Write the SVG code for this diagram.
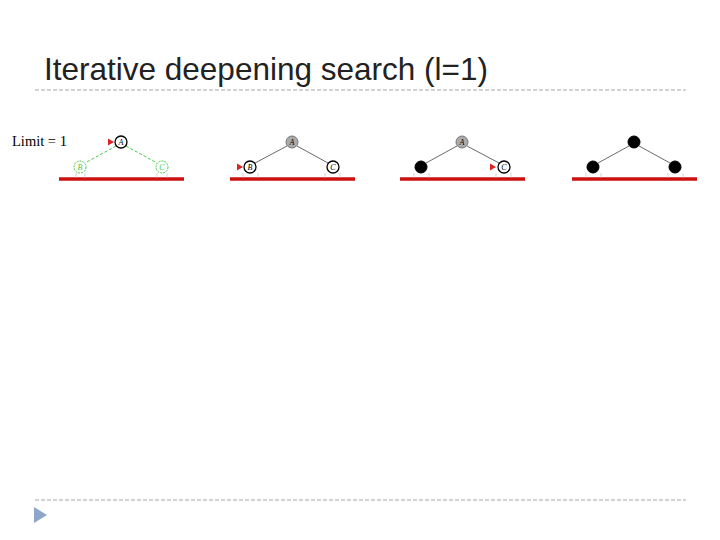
<svg xmlns="http://www.w3.org/2000/svg" width="720" height="540" viewBox="0 0 720 540">
<style>
.title{font-family:"Liberation Sans",Arial,sans-serif;font-size:31.5px;fill:#222}
.sep{stroke:#a6a6a6;stroke-width:1;stroke-dasharray:4,2;fill:none}
.edge{stroke:#444;stroke-width:0.8;fill:none}
.gedge{stroke:#44cc44;stroke-width:1;stroke-dasharray:3,2;fill:none}
.open{fill:#fff;stroke:#000;stroke-width:1.3}
.gray{fill:#aaa;stroke:#777;stroke-width:1}
.black{fill:#000;stroke:#000}
.green{fill:#fff;stroke:#44cc44;stroke-width:1;stroke-dasharray:2,1}
.lbl{font-family:"Liberation Serif",serif;font-style:italic;font-size:8px;text-anchor:middle}
.floor{stroke:#cc1111;stroke-width:3.5}
.tick{stroke:#bbb;stroke-width:0.6}
.ptr{fill:#dd2222}
.limit{font-family:"Liberation Serif",serif;font-size:14.5px;fill:#000}
</style>
<text class="title" x="44" y="80">Iterative deepening search (l=1)</text>
<line class="sep" x1="35" y1="90" x2="686" y2="90"/>
<line class="sep" x1="35" y1="500" x2="686" y2="500"/>
<polygon points="34,507 34,523 47,515" fill="#8ea6c9"/>
<text class="limit" x="12" y="146">Limit = 1</text>
<g id="connectors">
<line class="gedge" x1="116" y1="146" x2="85" y2="163"/>
<line class="gedge" x1="126" y1="146" x2="157" y2="163"/>
<line class="edge" x1="287" y1="146" x2="255" y2="163"/>
<line class="edge" x1="297" y1="146" x2="328" y2="163"/>
<line class="edge" x1="457" y1="146" x2="426" y2="163"/>
<line class="edge" x1="467" y1="146" x2="499" y2="163"/>
<line class="edge" x1="629" y1="146" x2="598" y2="163"/>
<line class="edge" x1="639" y1="146" x2="670" y2="163"/>
</g>
<g id="panel1">
<line class="floor" x1="59" y1="179" x2="184" y2="179"/>
<line class="tick" x1="76" y1="173" x2="76" y2="178"/><line class="tick" x1="85" y1="173" x2="85" y2="178"/>
<line class="tick" x1="157" y1="173" x2="157" y2="178"/><line class="tick" x1="167" y1="173" x2="167" y2="178"/>
<g id="p1A"><circle class="open" cx="121" cy="142" r="6"/><text class="lbl" x="121" y="145">A</text></g>
<g id="p1B"><circle class="green" cx="80" cy="167" r="6"/><text class="lbl" x="80" y="170" fill="#44cc44">B</text></g>
<g id="p1C"><circle class="green" cx="162" cy="167" r="6"/><text class="lbl" x="162" y="170" fill="#44cc44">C</text></g>
<polygon class="ptr" points="108,138.5 108,145.5 114,142"/>
</g>
<g id="panel2">
<line class="floor" x1="230" y1="179" x2="355" y2="179"/>
<line class="tick" x1="243" y1="173" x2="243" y2="178"/><line class="tick" x1="258" y1="173" x2="258" y2="178"/>
<line class="tick" x1="325" y1="173" x2="325" y2="178"/><line class="tick" x1="340" y1="173" x2="340" y2="178"/>
<g id="p2A"><circle class="gray" cx="292" cy="142" r="6"/><text class="lbl" x="292" y="145">A</text></g>
<g id="p2B"><circle class="open" cx="250" cy="167" r="6"/><text class="lbl" x="250" y="170">B</text></g>
<g id="p2C"><circle class="open" cx="333" cy="167" r="6"/><text class="lbl" x="333" y="170">C</text></g>
<polygon class="ptr" points="237,163.5 237,170.5 243,167"/>
</g>
<g id="panel3">
<line class="floor" x1="400" y1="179" x2="525" y2="179"/>
<line class="tick" x1="414" y1="173" x2="414" y2="178"/><line class="tick" x1="429" y1="173" x2="429" y2="178"/>
<line class="tick" x1="496" y1="173" x2="496" y2="178"/><line class="tick" x1="511" y1="173" x2="511" y2="178"/>
<g id="p3A"><circle class="gray" cx="462" cy="142" r="6"/><text class="lbl" x="462" y="145">A</text></g>
<g id="p3B"><circle class="black" cx="421" cy="167" r="6"/></g>
<g id="p3C"><circle class="open" cx="504" cy="167" r="6"/><text class="lbl" x="504" y="170">C</text></g>
<polygon class="ptr" points="490,163.5 490,170.5 496,167"/>
</g>
<g id="panel4">
<line class="floor" x1="572" y1="179" x2="697" y2="179"/>
<line class="tick" x1="586" y1="173" x2="586" y2="178"/><line class="tick" x1="601" y1="173" x2="601" y2="178"/>
<line class="tick" x1="668" y1="173" x2="668" y2="178"/><line class="tick" x1="683" y1="173" x2="683" y2="178"/>
<g id="p4A"><circle class="black" cx="634" cy="142" r="6"/></g>
<g id="p4B"><circle class="black" cx="593" cy="167" r="6"/></g>
<g id="p4C"><circle class="black" cx="675" cy="167" r="6"/></g>
</g>
</svg>
